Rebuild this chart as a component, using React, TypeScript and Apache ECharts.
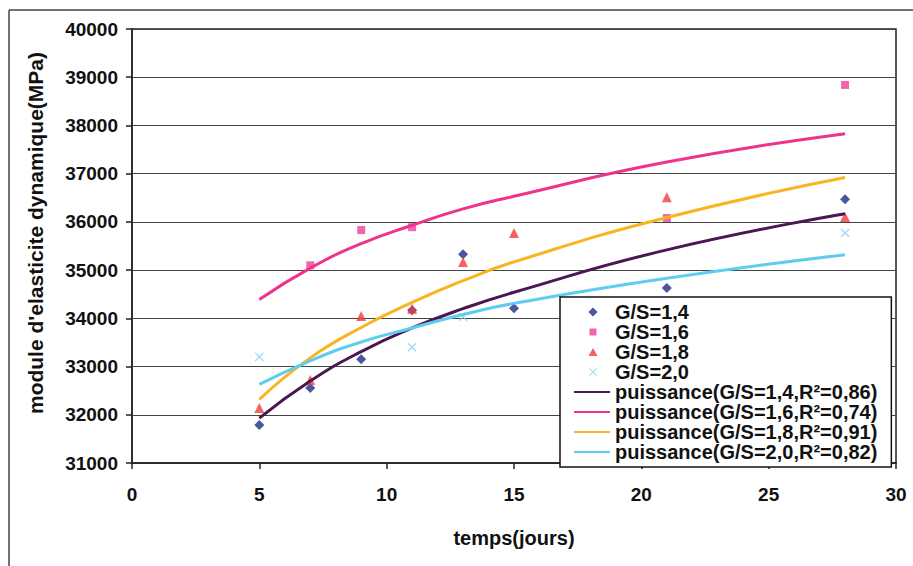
import React, { useEffect, useRef } from 'react';
import * as echarts from 'echarts';

// measured points (temps in jours, module in MPa)
const days14 = [5, 7, 9, 11, 13, 15, 21, 28];
const gs14 = [31790, 32555, 33150, 34170, 35330, 34210, 34630, 36470];
const days16 = [7, 9, 11, 21, 28];
const gs16 = [35100, 35830, 35890, 36080, 38840];
const days18 = [5, 7, 9, 11, 13, 15, 21, 28];
const gs18 = [32140, 32720, 34050, 34200, 35170, 35770, 36510, 36100];
const days20 = [5, 11, 13, 28];
const gs20 = [33200, 33400, 34030, 35770];

// trend curves
const trendDays = [5, 7, 9, 11, 13, 15, 21, 28];
const trend14 = [31930, 32700, 33310, 33800, 34200, 34540, 35420, 36170];
const trend16 = [34390, 35040, 35550, 35930, 36270, 36530, 37240, 37830];
const trend18 = [32320, 33180, 33810, 34330, 34780, 35170, 36090, 36920];
const trend20 = [32630, 33120, 33510, 33800, 34080, 34310, 34830, 35320];

const scatterNames = ['G/S=1,4', 'G/S=1,6', 'G/S=1,8', 'G/S=2,0'];
const trendNames = [
  'puissance(G/S=1,4,R²=0,86)',
  'puissance(G/S=1,6,R²=0,74)',
  'puissance(G/S=1,8,R²=0,91)',
  'puissance(G/S=2,0,R²=0,82)',
];

const FONT = 'Liberation Sans, Arial, sans-serif';
const crossPath = 'path://M0,1L1,0L5,4L9,0L10,1L6,5L10,9L9,10L5,6L1,10L0,9L4,5Z';
const markerSymbols = ['diamond', 'rect', 'triangle', crossPath];
const markerSizes = [10, 8, 10, 9];
const markerColors = ['#1E2C86', '#EE3E98', '#F23B3B', '#7FD3EE'];
const trendColors = ['#4A1752', '#F0328F', '#F8B520', '#5ECDF0'];

// legend icons: marker drawn inside a 36x10 box so it is not stretched
const legendIcons = [
  'path://M0,0M36,10M19,0.5L23.5,5L19,9.5L14.5,5Z',
  'path://M0,0M36,10M15.5,1.5H22.5V8.5H15.5Z',
  'path://M0,0M36,10M19,1L23.5,9H14.5Z',
  'path://M0,0M36,10M15,1.7L15.7,1L19,4.3L22.3,1L23,1.7L19.7,5L23,8.3L22.3,9L19,5.7L15.7,9L15,8.3L18.3,5Z',
];

const zip = (xs: number[], ys: number[]) => xs.map((x, i) => [x, ys[i]]);

export default function App() {
  const ref = useRef<HTMLDivElement>(null);
  useEffect(() => {
    if (!ref.current) return;
    const chart = echarts.init(ref.current, undefined, { renderer: 'svg' });
    const markerData = [zip(days14, gs14), zip(days16, gs16), zip(days18, gs18), zip(days20, gs20)];
    const markerSeries = markerData.map((d, i) => ({
      type: 'scatter',
      name: scatterNames[i],
      data: d,
      symbol: markerSymbols[i],
      symbolSize: markerSizes[i],
      itemStyle: { color: markerColors[i] },
    }));
    const trendData = [trend14, trend16, trend18, trend20];
    const lineSeries = trendData.map((vals, i) => ({
      type: 'line',
      name: trendNames[i],
      data: zip(trendDays, vals),
      smooth: true,
      symbol: 'none',
      showSymbol: false,
      lineStyle: { color: trendColors[i], width: 3 },
      itemStyle: { color: trendColors[i] },
    }));

    const legendData = [
      ...scatterNames.map((n, i) => ({ name: n, icon: legendIcons[i] })),
      ...trendNames.map((n) => ({
        name: n,
        itemStyle: { color: 'rgba(0,0,0,0)', borderWidth: 0, opacity: 0 },
      })),
    ];

    chart.setOption({
      animation: false,
      backgroundColor: '#ffffff',
      grid: {
        left: 132,
        right: 17,
        top: 29,
        bottom: 103,
        show: true,
        borderColor: '#222',
        borderWidth: 1.5,
        backgroundColor: 'transparent',
      },
      xAxis: {
        type: 'value',
        min: 0,
        max: 30,
        interval: 5,
        name: 'temps(jours)',
        nameLocation: 'middle',
        nameGap: 65,
        nameTextStyle: { fontFamily: FONT, fontSize: 20, fontWeight: 'bold', color: '#111' },
        axisLine: { lineStyle: { color: '#222', width: 1.5 } },
        axisTick: { show: true, inside: false, length: 6, lineStyle: { color: '#222', width: 1.5 } },
        axisLabel: { fontFamily: FONT, fontSize: 19, fontWeight: 'bold', color: '#111', margin: 22 },
        splitLine: { show: false },
      },
      yAxis: {
        type: 'value',
        min: 31000,
        max: 40000,
        interval: 1000,
        name: "module d'elasticite dynamique(MPa)",
        nameLocation: 'middle',
        nameGap: 86,
        nameRotate: 90,
        nameTextStyle: {
          fontFamily: FONT,
          fontSize: 21,
          fontWeight: 'bold',
          color: '#111',
          padding: [0, 0, 0, 26],
        },
        axisLine: { show: true, lineStyle: { color: '#222', width: 1.5 } },
        axisTick: { show: true, inside: false, length: 6, lineStyle: { color: '#222', width: 1.5 } },
        axisLabel: {
          fontFamily: FONT,
          fontSize: 19,
          fontWeight: 'bold',
          color: '#111',
          margin: 14,
          formatter: (v: number) => String(v),
        },
        splitLine: { show: true, lineStyle: { color: '#444', width: 1 } },
      },
      legend: {
        orient: 'vertical',
        left: 560,
        top: 297,
        padding: [5, 14, 5, 13],
        itemGap: 0,
        itemWidth: 36,
        itemHeight: 10,
        symbolKeepAspect: true,
        backgroundColor: '#ffffff',
        borderColor: '#111',
        borderWidth: 1.5,
        textStyle: { fontFamily: FONT, fontSize: 20, fontWeight: 'bold', color: '#111', lineHeight: 19 },
        data: legendData,
      },
      graphic: [
        { type: 'line', shape: { x1: 9, y1: 10, x2: 9, y2: 566 }, style: { stroke: '#444', lineWidth: 1.5 }, silent: true },
        { type: 'line', shape: { x1: 9, y1: 10, x2: 913, y2: 10 }, style: { stroke: '#444', lineWidth: 1.5 }, silent: true },
      ],
      series: [...markerSeries, ...lineSeries],
    });
    return () => chart.dispose();
  }, []);
  return (
    <div
      ref={ref}
      style={{ position: 'fixed', left: 0, top: 0, width: 913, height: 566, background: '#fff' }}
    />
  );
}
